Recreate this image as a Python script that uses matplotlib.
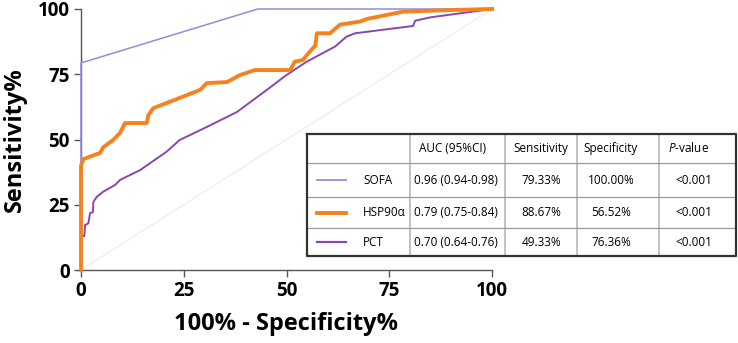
import matplotlib
matplotlib.use('Agg')
import matplotlib.pyplot as plt

plt.rcParams['font.family'] = ['Open Sans', 'DejaVu Sans']
plt.rcParams['mathtext.fontset'] = 'custom'
plt.rcParams['mathtext.it'] = 'Open Sans:italic'
plt.rcParams['mathtext.rm'] = 'Open Sans'

# ROC curves (100% - specificity, sensitivity)
sofa_x = [0, 0, 43, 100]
sofa_y = [0, 79.33, 100, 100]

hsp_x = [0, 0, 0.6, 4.0, 4.6, 5.4, 7.8, 9.5, 10.7, 16.0, 16.4, 17.6, 29.0, 30.6,
         35.5, 38.7, 42.3, 50.9, 52.0, 54.0, 55.3, 57.0, 57.4, 60.6, 63.0,
         67.9, 69.6, 78.4, 89.8, 100]
hsp_y = [0, 40, 42.5, 44.5, 44.8, 47, 49.8, 52.5, 56.3, 56.3, 59.4, 62, 69, 71.6,
         72, 74.7, 76.6, 76.6, 79.8, 80.5, 83, 86, 90.7, 90.7, 94,
         95.2, 96.2, 99, 99.6, 100]

pct_x = [0, 0, 0.8, 1.0, 1.8, 2.2, 2.9, 3.0, 3.8, 5.4, 8.3, 9.5, 14.4, 20.8,
         24.0, 30.6, 37.9, 45.2, 50.0, 54.9, 61.8, 64.6, 66.7, 80.8, 81.3,
         85.0, 100]
pct_y = [0, 13, 13, 17.2, 17.9, 21.8, 22.2, 26, 28, 30, 32.6, 34.5, 38.3, 45.3,
         49.8, 54.8, 60.5, 69, 74.7, 79.8, 85.6, 89.4, 90.7, 93.5, 95.5,
         96.8, 100]

names = ['SOFA', 'HSP90α', 'PCT']
colors = ['#8e8fdc', '#f5821f', '#8a45b0']
widths = [1.1, 2.8, 1.4]
auc = ['0.96 (0.94-0.98)', '0.79 (0.75-0.84)', '0.70 (0.64-0.76)']
sens = ['79.33%', '88.67%', '49.33%']
spec = ['100.00%', '56.52%', '76.36%']
pval = ['<0.001', '<0.001', '<0.001']
ticks = [0, 25, 50, 75, 100]

fig = plt.figure(figsize=(7.38, 3.43), dpi=100)
ax = fig.add_axes([81 / 738, 73 / 343, 411 / 738, 261 / 343])

ax.plot([0, 100], [0, 100], color='#ebebeb', lw=0.8, zorder=1)
curves = [(sofa_x, sofa_y), (hsp_x, hsp_y), (pct_x, pct_y)]
order = [3, 4, 2]
for (cx, cy), c, w, z in zip(curves, colors, widths, order):
    ax.plot(cx, cy, color=c, lw=w, clip_on=False, zorder=z)

ax.set_xlim(0, 100)
ax.set_ylim(0, 100)
ax.set_xticks(ticks)
ax.set_yticks(ticks)
ax.tick_params(labelsize=13.5, width=1, length=5, color='#555555', pad=3)
for lab in ax.get_xticklabels() + ax.get_yticklabels():
    lab.set_fontweight('bold')
for s in ['top', 'right']:
    ax.spines[s].set_visible(False)
for s in ['left', 'bottom']:
    ax.spines[s].set_color('#555555')
    ax.spines[s].set_linewidth(1)
ax.set_xlabel('100% - Specificity%', fontsize=17, fontweight='bold', labelpad=8)
ax.set_ylabel('Sensitivity%', fontsize=17, fontweight='bold', labelpad=8)

# table with legend
tb = fig.add_axes([307 / 738, 87 / 343, 429 / 738, 122 / 343])
tb.set_xlim(307, 736)
tb.set_ylim(256, 134)
tb.axis('off')
col_edges = [307, 410, 505, 577, 659, 736]
row_edges = [134, 163, 197, 228, 256]
for xe in col_edges[1:-1]:
    tb.plot([xe, xe], [134, 256], color='#b0b0b0', lw=1.1)
for ye in row_edges[1:-1]:
    tb.plot([307, 736], [ye, ye], color='#999999', lw=0.9)
tb.plot([307, 736, 736, 307, 307], [134, 134, 256, 256, 134], color='#333333',
        lw=1.6, clip_on=False)

fs = 8.5
hy = (row_edges[0] + row_edges[1]) / 2
tb.text(419, hy, 'AUC (95%CI)', fontsize=fs, va='center')
tb.text(513, hy, 'Sensitivity', fontsize=fs, va='center')
tb.text(583, hy, 'Specificity', fontsize=fs, va='center')
tb.text(668, hy, '$P$-value', fontsize=fs, va='center')
for i in range(3):
    y = (row_edges[i + 1] + row_edges[i + 2]) / 2
    tb.plot([317, 346], [y, y], color=colors[i], lw=widths[i] * 0.9 + 0.3)
    tb.text(363, y, names[i], fontsize=fs, va='center')
    tb.text(414, y, auc[i], fontsize=fs, va='center')
    tb.text(541, y, sens[i], fontsize=fs, va='center', ha='center')
    tb.text(611, y, spec[i], fontsize=fs, va='center', ha='center')
    tb.text(694, y, pval[i], fontsize=fs, va='center', ha='center')

fig.savefig('out.png', dpi=100)
